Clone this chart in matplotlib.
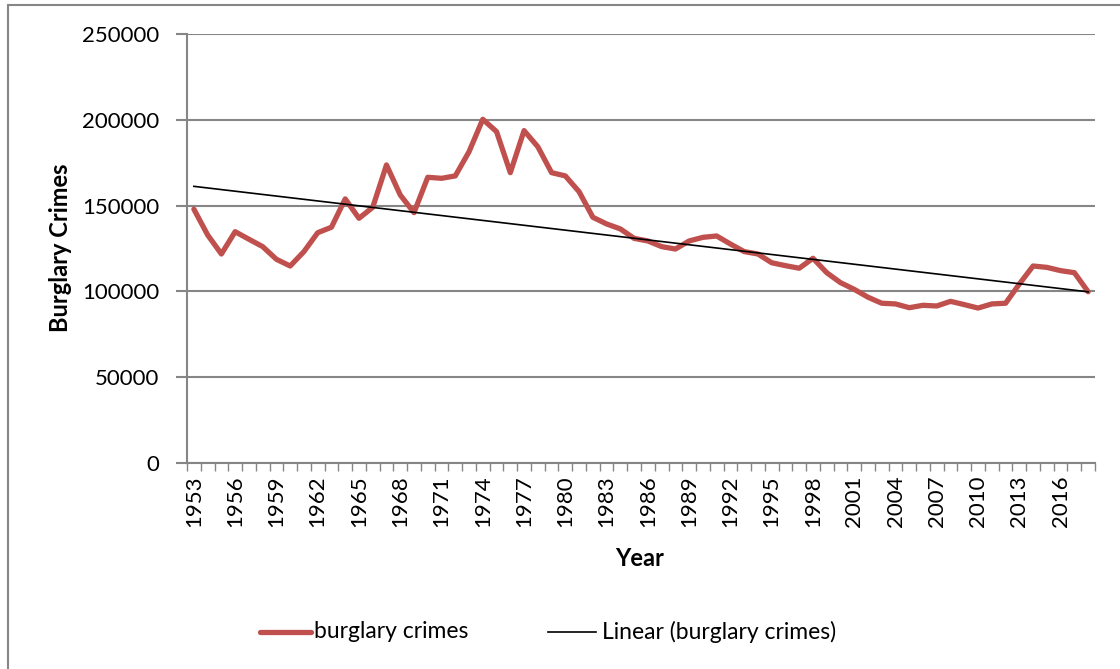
import numpy as np
import matplotlib.pyplot as plt
from matplotlib.patches import Rectangle
from matplotlib.lines import Line2D

plt.rcParams['font.family'] = ['Lato', 'DejaVu Sans']

# datos
anios = list(range(1953, 2019))
robos = [147900, 132900, 121800, 134800, 130400, 126100, 118700, 114800, 123200, 134200,
         137400, 153900, 142600, 149000, 173700, 156200, 145900, 166500, 165900, 167300,
         181400, 200300, 193100, 169200, 193700, 184300, 169200, 167300, 158100, 143200,
         139300, 136400, 130900, 129400, 126100, 124700, 129400, 131500, 132300, 127600,
         123200, 121800, 116700, 115000, 113500, 119300, 110900, 105100, 101200, 96600,
         93100, 92700, 90500, 91900, 91500, 94200, 92300, 90300, 92700, 93100,
         104300, 114800, 114000, 112100, 110900, 99800]
y_ticks = [0, 50000, 100000, 150000, 200000, 250000]

x = np.arange(len(anios))
coef = np.polyfit(x, robos, 1)
tendencia = np.polyval(coef, x)

gris = '#868686'
rojo = '#C0504D'

fig = plt.figure(figsize=(11.2, 6.69), dpi=100)
ax = fig.add_axes([187/1120, 1-463/669, (1095-187)/1120, (463-34)/669])

ax.plot(x, robos, color=rojo, lw=3.8, solid_joinstyle='round', solid_capstyle='round', zorder=3)
ax.plot(x, tendencia, color='black', lw=1.2, zorder=4)

ax.set_xlim(-0.5, len(anios)-0.5)
ax.set_ylim(0, 250000)
ax.set_yticks(y_ticks)
ax.set_yticklabels([str(v) for v in y_ticks], fontsize=16)
ax.yaxis.grid(True, color=gris, lw=1.5)
ax.set_axisbelow(True)

# etiquetas cada 3 anios, marcas entre categorias
ax.set_xticks(x[::3])
ax.set_xticklabels([str(a) for a in anios[::3]], rotation=90, fontsize=16)
ax.tick_params(axis='x', length=0, pad=9)
ax.set_xticks(np.arange(-0.5, len(anios), 1), minor=True)
ax.tick_params(axis='x', which='minor', length=6, color=gris, width=1, direction='out')
ax.tick_params(axis='y', length=8, color=gris, width=1.5, pad=12)

for s in ['top', 'right']:
    ax.spines[s].set_visible(False)
ax.spines['left'].set_color(gris)
ax.spines['bottom'].set_color(gris)
ax.spines['left'].set_linewidth(1.5)
ax.spines['bottom'].set_linewidth(1.5)

fig.text(60/1120, 1-248/669, 'Burglary Crimes', rotation=90, fontsize=17, fontweight='bold',
         ha='center', va='center')
fig.text(640/1120, 1-558/669, 'Year', fontsize=17, fontweight='bold', ha='center', va='center')

# leyenda
yl = 1-632/669
fig.add_artist(Line2D([260/1120, 311/1120], [yl, yl], color=rojo, lw=3.8, solid_capstyle='round'))
fig.text(314/1120, yl, 'burglary crimes', fontsize=16.5, va='center')
fig.add_artist(Line2D([548/1120, 596/1120], [yl, yl], color='black', lw=1.2))
fig.text(602/1120, yl, 'Linear (burglary crimes)', fontsize=16.5, va='center')

# borde exterior
fig.add_artist(Rectangle((8/1120, -0.05), 1.2, 1-5/669+0.05, transform=fig.transFigure,
                         fill=False, edgecolor=gris, lw=1.5))

fig.savefig('out.png', dpi=100)
